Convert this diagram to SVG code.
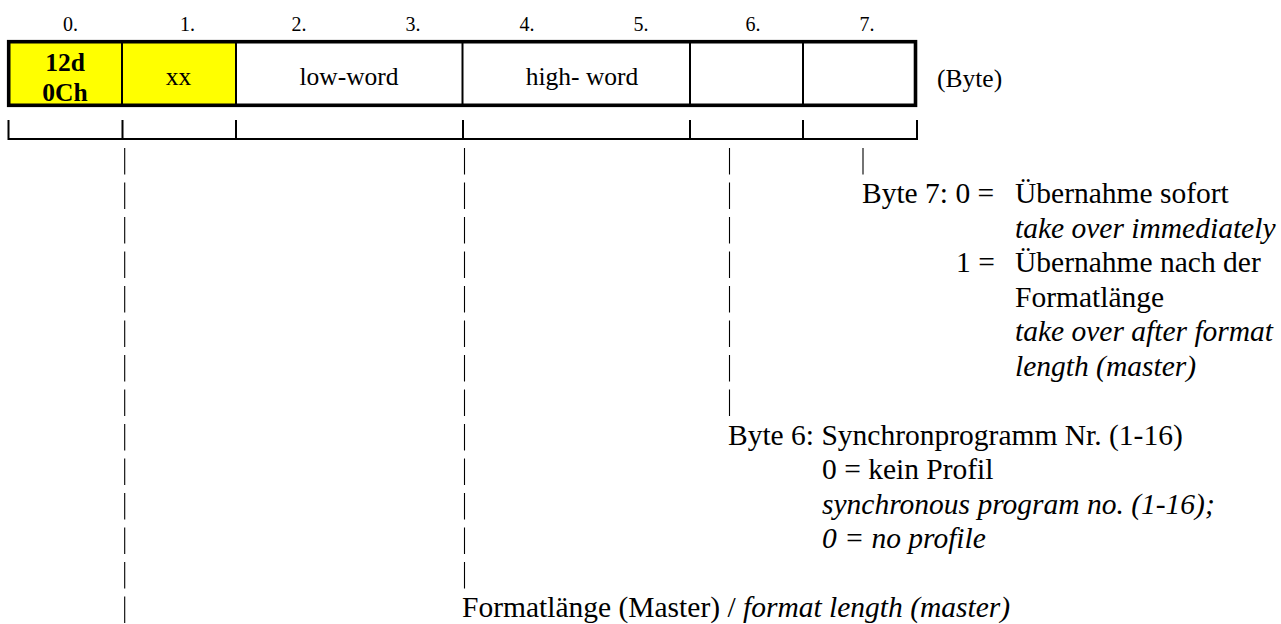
<svg xmlns="http://www.w3.org/2000/svg" width="1281" height="624" viewBox="0 0 1281 624">
<style>
text { font-family: "Liberation Serif", "Times New Roman", serif; fill: #000; }
.hdr { font-size: 20px; text-anchor: middle; }
.cell { font-size: 25.5px; text-anchor: middle; }
.bold { font-weight: bold; }
.body { font-size: 29.5px; }
.it { font-style: italic; }
.div { stroke: #000; stroke-width: 2; }
.frame { fill: none; stroke: #000; stroke-width: 3.6; }
.tick { stroke: #000; stroke-width: 2; fill: none; }
.bar { stroke: #000; stroke-width: 1.1; stroke-dasharray: 26.5 8; fill: none; }
</style>
<rect width="1281" height="624" fill="#fff"/>
<g id="header">
<text class="hdr" x="70.5" y="31">0.</text>
<text class="hdr" x="187.5" y="31">1.</text>
<text class="hdr" x="299" y="31">2.</text>
<text class="hdr" x="413" y="31">3.</text>
<text class="hdr" x="527" y="31">4.</text>
<text class="hdr" x="641" y="31">5.</text>
<text class="hdr" x="753" y="31">6.</text>
<text class="hdr" x="867" y="31">7.</text>
</g>
<g id="byte0">
<rect x="8.7" y="41.7" width="113.3" height="63.6" fill="#ffff00"/>
<text class="cell bold" x="65" y="70.5">12d</text>
<text class="cell bold" x="65" y="100.5">0Ch</text>
</g>
<g id="byte1">
<rect x="122" y="41.7" width="114" height="63.6" fill="#ffff00"/>
<text class="cell" x="178.5" y="85">xx</text>
</g>
<g id="low-word">
<text class="cell" x="349" y="85">low-word</text>
</g>
<g id="high-word">
<text class="cell" x="582" y="85">high- word</text>
</g>
<g id="byte6"><rect x="690" y="41.7" width="113" height="63.6" fill="none"/></g>
<g id="byte7"><rect x="803" y="41.7" width="112.5" height="63.6" fill="none"/></g>
<g id="frame">
<line class="div" x1="122" y1="41.7" x2="122" y2="105.3"/>
<line class="div" x1="236" y1="41.7" x2="236" y2="105.3"/>
<line class="div" x1="462.5" y1="41.7" x2="462.5" y2="105.3"/>
<line class="div" x1="690" y1="41.7" x2="690" y2="105.3"/>
<line class="div" x1="803" y1="41.7" x2="803" y2="105.3"/>
<rect class="frame" x="8.7" y="41.7" width="906.8" height="63.6"/>
</g>
<g id="unit-label">
<text class="cell" x="937" y="87" style="text-anchor:start">(Byte)</text>
</g>
<g id="bracket">
<path class="tick" d="M8.5 120 V139 H917 V120 M122.5 120 V139 M236 120 V139 M463 120 V139 M690 120 V139 M803 120 V139"/>
</g>
<g id="connectors">
<line class="bar" x1="124.7" y1="148" x2="124.7" y2="623"/>
<line class="bar" x1="464.5" y1="148" x2="464.5" y2="588.5"/>
<line class="bar" x1="729.5" y1="148" x2="729.5" y2="416"/>
<line class="bar" x1="863" y1="148" x2="863" y2="174.5"/>
</g>
<g id="byte7-note">
<text class="body" x="862" y="203">Byte 7: 0 =</text>
<text class="body" x="1015" y="203">Übernahme sofort</text>
<text class="body it" x="1015" y="237.5">take over immediately</text>
<text class="body" x="956" y="272">1 =</text>
<text class="body" x="1015" y="272">Übernahme nach der</text>
<text class="body" x="1015" y="306.5">Formatlänge</text>
<text class="body it" x="1015" y="341">take over after format</text>
<text class="body it" x="1015" y="375.5">length (master)</text>
</g>
<g id="byte6-note">
<text class="body" x="728" y="444.5">Byte 6: Synchronprogramm Nr. (1-16)</text>
<text class="body" x="822" y="479">0 = kein Profil</text>
<text class="body it" x="822" y="513.5">synchronous program no. (1-16);</text>
<text class="body it" x="822" y="548">0 = no profile</text>
</g>
<g id="length-note">
<text class="body" x="462" y="617">Formatlänge (Master) / <tspan class="it">format length (master)</tspan></text>
</g>
</svg>
